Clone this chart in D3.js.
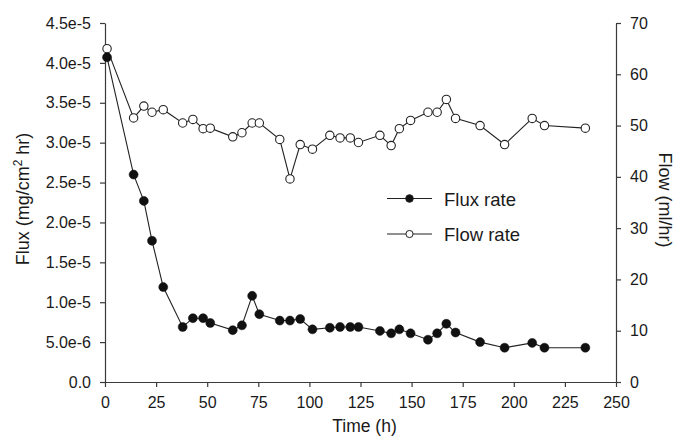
<!DOCTYPE html>
<html>
<head>
<meta charset="utf-8">
<script src="https://cdn.jsdelivr.net/npm/d3@7"></script>
<style>
  body { margin: 0; background: #fff; }
  svg { display: block; font-family: "Liberation Sans", Arial, sans-serif; }
  .axis path, .axis line { stroke: #3a3a3a; stroke-width: 1.2; }
  .axis text { font-size: 16px; fill: #1a1a1a; font-family: "Liberation Sans", Arial, sans-serif; }
</style>
</head>
<body>
<div id="chart"></div>
<script>
// sampling times (h)
var times = [1, 14, 19, 23, 28.5, 38, 43, 48, 51.5, 62.5, 67, 72, 75.5, 85.5, 90.5, 95.5, 101.5,
             110, 115, 120, 124, 134.5, 140, 144, 149.5, 158, 162.5, 167, 171.5, 183.5, 195.5, 209, 215, 235];
// flux rate, units of 1e-5 mg/cm2 hr
var fluxRate = [4.07, 2.60, 2.27, 1.77, 1.19, 0.69, 0.80, 0.80, 0.74, 0.65, 0.71, 1.08, 0.85, 0.77, 0.77, 0.79, 0.66,
                0.68, 0.69, 0.69, 0.69, 0.64, 0.61, 0.66, 0.61, 0.53, 0.61, 0.73, 0.62, 0.50, 0.43, 0.49, 0.43, 0.43];
// flow rate, ml/hr
var flowRate = [65.0, 51.5, 53.8, 52.6, 53.1, 50.5, 51.2, 49.4, 49.5, 47.8, 48.6, 50.5, 50.5, 47.3, 39.6, 46.3, 45.4,
                48.1, 47.6, 47.6, 46.7, 48.1, 46.1, 49.4, 51.0, 52.6, 52.6, 55.1, 51.4, 50.0, 46.3, 51.4, 50.0, 49.5];

var xTicks = [0, 25, 50, 75, 100, 125, 150, 175, 200, 225, 250];
var fluxTicks = [0, 0.5, 1, 1.5, 2, 2.5, 3, 3.5, 4, 4.5];
var fluxTickLabels = ["0.0", "5.0e-6", "1.0e-5", "1.5e-5", "2.0e-5", "2.5e-5", "3.0e-5", "3.5e-5", "4.0e-5", "4.5e-5"];
var flowTicks = [0, 10, 20, 30, 40, 50, 60, 70];

var width = 674, height = 437;
var margin = {top: 23, right: 58, bottom: 55, left: 105};

var svg = d3.select("#chart").append("svg")
    .attr("width", width)
    .attr("height", height);

var x = d3.scaleLinear().domain([0, 250]).range([margin.left, width - margin.right]);
var yFlux = d3.scaleLinear().domain([0, 4.5]).range([height - margin.bottom, margin.top]);
var yFlow = d3.scaleLinear().domain([0, 70]).range([height - margin.bottom, margin.top]);

svg.append("g")
    .attr("class", "axis")
    .attr("transform", "translate(0," + (height - margin.bottom) + ")")
    .call(d3.axisBottom(x).tickValues(xTicks).tickSize(5).tickSizeOuter(0).tickPadding(10));

svg.append("g")
    .attr("class", "axis")
    .attr("transform", "translate(" + margin.left + ",0)")
    .call(d3.axisLeft(yFlux).tickValues(fluxTicks).tickSize(5).tickSizeOuter(0).tickPadding(9)
        .tickFormat(function(d, i) { return fluxTickLabels[i]; }));

svg.append("g")
    .attr("class", "axis")
    .attr("transform", "translate(" + (width - margin.right) + ",0)")
    .call(d3.axisRight(yFlow).tickValues(flowTicks).tickSize(5).tickSizeOuter(0).tickPadding(9));

// lines
var flowLine = d3.line()
    .x(function(d, i) { return x(times[i]); })
    .y(function(d) { return yFlow(d); });
var fluxLine = d3.line()
    .x(function(d, i) { return x(times[i]); })
    .y(function(d) { return yFlux(d); });

svg.append("path")
    .datum(flowRate)
    .attr("d", flowLine)
    .attr("fill", "none")
    .attr("stroke", "#222")
    .attr("stroke-width", 1.1);

svg.append("path")
    .datum(fluxRate)
    .attr("d", fluxLine)
    .attr("fill", "none")
    .attr("stroke", "#222")
    .attr("stroke-width", 1.1);

svg.selectAll(".flow")
    .data(flowRate)
    .enter().append("circle")
    .attr("class", "flow")
    .attr("cx", function(d, i) { return x(times[i]); })
    .attr("cy", function(d) { return yFlow(d); })
    .attr("r", 4.2)
    .attr("fill", "#fff")
    .attr("stroke", "#222")
    .attr("stroke-width", 1.1);

svg.selectAll(".flux")
    .data(fluxRate)
    .enter().append("circle")
    .attr("class", "flux")
    .attr("cx", function(d, i) { return x(times[i]); })
    .attr("cy", function(d) { return yFlux(d); })
    .attr("r", 4.5)
    .attr("fill", "#111")
    .attr("stroke", "#111")
    .attr("stroke-width", 0.5);

// legend
var legend = [{name: "Flux rate", fill: "#111", y: 198.5}, {name: "Flow rate", fill: "#fff", y: 234}];
var lg = svg.selectAll(".legend")
    .data(legend)
    .enter().append("g")
    .attr("class", "legend");
lg.append("line")
    .attr("x1", 387).attr("x2", 432)
    .attr("y1", function(d) { return d.y; })
    .attr("y2", function(d) { return d.y; })
    .attr("stroke", "#222")
    .attr("stroke-width", 1.1);
lg.append("circle")
    .attr("cx", 409.5)
    .attr("cy", function(d) { return d.y; })
    .attr("r", function(d) { return d.fill == "#fff" ? 3.6 : 3.8; })
    .attr("fill", function(d) { return d.fill; })
    .attr("stroke", "#222")
    .attr("stroke-width", 1);
lg.append("text")
    .attr("x", 444)
    .attr("y", function(d) { return d.y + 7; })
    .attr("font-size", "18.5px")
    .attr("fill", "#1a1a1a")
    .text(function(d) { return d.name; });

// axis titles
svg.append("text")
    .attr("x", (margin.left + width - margin.right) / 2 + 4)
    .attr("y", 432)
    .attr("text-anchor", "middle")
    .attr("font-size", "17.5px")
    .attr("fill", "#1a1a1a")
    .text("Time (h)");

var yTitle = svg.append("text")
    .attr("transform", "translate(29,199) rotate(-90)")
    .attr("text-anchor", "middle")
    .attr("font-size", "18px")
    .attr("fill", "#1a1a1a");
yTitle.append("tspan").text("Flux (mg/cm");
yTitle.append("tspan").attr("font-size", "12px").attr("dy", -7).text("2");
yTitle.append("tspan").attr("dy", 7).text(" hr)");

svg.append("text")
    .attr("transform", "translate(659,200) rotate(90)")
    .attr("text-anchor", "middle")
    .attr("font-size", "18px")
    .attr("fill", "#1a1a1a")
    .text("Flow (ml/hr)");
</script>
</body>
</html>
